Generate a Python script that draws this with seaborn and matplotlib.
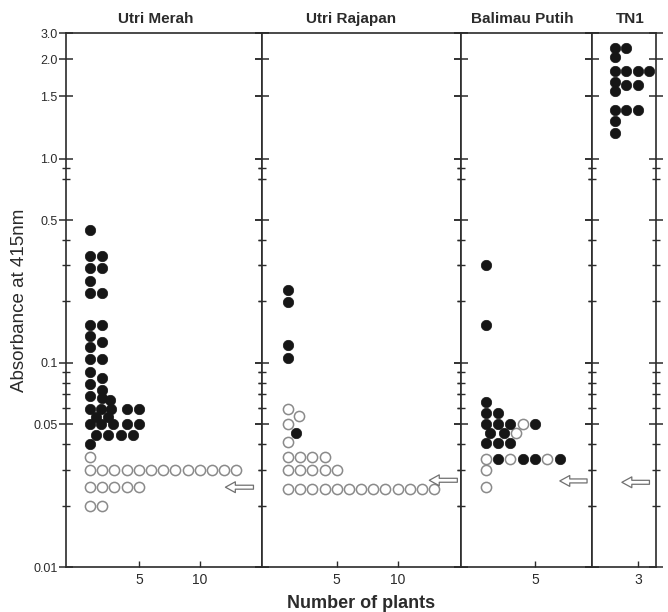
import numpy as np
import pandas as pd
import matplotlib
matplotlib.use("Agg")
import matplotlib.pyplot as plt
from matplotlib.ticker import FixedLocator, FixedFormatter, NullFormatter
import seaborn as sns

# ---- data: column (plant count position) and absorbance of each plant ----
PANELS = ["Utri Merah", "Utri Rajapan", "Balimau Putih", "TN1"]

# Utri Merah
um_fill_x = [1, 1, 2, 1, 2, 1, 1, 2, 1, 2, 1, 1, 2, 1, 2, 1, 1, 2, 2, 1, 2, 2.6,
             1, 1.9, 2.7, 4, 5, 1.5, 2.5, 1, 1.9, 2.9, 4, 5, 1.5, 2.5, 3.5, 4.5, 1]
um_fill_y = [0.450, 0.332, 0.332, 0.293, 0.293, 0.253, 0.219, 0.219, 0.154, 0.154,
             0.136, 0.120, 0.127, 0.105, 0.105, 0.0899, 0.0785, 0.0840, 0.0734,
             0.0686, 0.0671, 0.0659,
             0.0593, 0.0593, 0.0593, 0.0593, 0.0593, 0.0541, 0.0541,
             0.0500, 0.0500, 0.0500, 0.0500, 0.0500,
             0.0442, 0.0442, 0.0442, 0.0442, 0.0400]
um_open_x = [1] + list(range(1, 14)) + list(range(1, 6)) + [1, 2]
um_open_y = [0.0345] + [0.030] * 13 + [0.0246] * 5 + [0.020] * 2

# Utri Rajapan
ur_fill_x = [1, 1, 1, 1, 1.7]
ur_fill_y = [0.228, 0.199, 0.122, 0.1056, 0.0451]
ur_open_x = [1, 1.9, 1, 1] + list(range(1, 5)) + list(range(1, 6)) + list(range(1, 14))
ur_open_y = [0.0597, 0.0551, 0.0503, 0.0408] + [0.0346] * 4 + [0.0298] * 5 + [0.0241] * 13

# Balimau Putih
bp_fill_x = [1, 1, 1, 1, 2, 1, 2, 3, 5, 1.4, 2.5, 1, 2, 3, 2, 4, 5, 7]
bp_fill_y = [0.300, 0.154, 0.0643, 0.0568, 0.0568, 0.0500, 0.0500, 0.0500, 0.0500,
             0.0451, 0.0451, 0.0405, 0.0405, 0.0405, 0.0340, 0.0340, 0.0340, 0.0340]
bp_open_x = [4, 3.5, 1, 3, 6, 1, 1]
bp_open_y = [0.0500, 0.0451, 0.0340, 0.0340, 0.0340, 0.0300, 0.0247]

# TN1
tn_fill_x = [1, 2, 1, 1, 2, 3, 4, 1, 2, 3, 1, 1, 2, 3, 1, 1]
tn_fill_y = [2.37, 2.37, 2.06, 1.83, 1.83, 1.83, 1.83, 1.68, 1.64, 1.64, 1.56,
             1.376, 1.376, 1.376, 1.28, 1.18]
tn_open_x = []
tn_open_y = []

# threshold arrows (tip, tail, absorbance)
arrow_tip = [12.1, 12.6, 7.0, 1.6]
arrow_tail = [14.4, 14.9, 9.2, 4.0]
arrow_y = [0.0246, 0.0266, 0.0264, 0.026]

x_ticks = [[5, 10], [5, 10], [5], [3]]
x_lims = [(-0.97, 15.1), (-1.13, 15.2), (-0.98, 9.6), (-1.0, 4.57)]
widths = [196, 199, 131, 64]

y_major = [0.01, 0.05, 0.1, 0.5, 1.0, 1.5, 2.0, 3.0]
y_major_lab = ["0.01", "0.05", "0.1", "0.5", "1.0", "1.5", "2.0", "3.0"]
y_minor = [0.02, 0.03, 0.04, 0.06, 0.07, 0.08, 0.09, 0.2, 0.3, 0.4, 0.8, 0.9]

fill_x = [um_fill_x, ur_fill_x, bp_fill_x, tn_fill_x]
fill_y = [um_fill_y, ur_fill_y, bp_fill_y, tn_fill_y]
open_x = [um_open_x, ur_open_x, bp_open_x, tn_open_x]
open_y = [um_open_y, ur_open_y, bp_open_y, tn_open_y]

# the original axis is logarithmic up to 1.0 and stretched above it
LOG_ANCHOR = np.log10([1e-6, 0.01, 1.0, 1.5, 2.0, 3.0, 1e3])
POS_ANCHOR = np.array([-6, -2, 0, 0.305, 0.488, 0.616, 0.616 + 1.9])


def fwd(v):
    v = np.clip(np.asarray(v, dtype=float), 1e-6, 1e3)
    return np.interp(np.log10(v), LOG_ANCHOR, POS_ANCHOR)


def inv(p):
    return 10 ** np.interp(np.asarray(p, dtype=float), POS_ANCHOR, LOG_ANCHOR)


sns.set_style("white")
plt.rcParams["font.family"] = ["Liberation Sans", "DejaVu Sans"]

INK = "#2b2b2b"
fig = plt.figure(figsize=(6.68, 6.12), dpi=100)
gs = fig.add_gridspec(1, 4, width_ratios=widths, left=66 / 668, right=656 / 668,
                      bottom=1 - 567 / 612, top=1 - 33 / 612, wspace=0)
title_x = [0.46, 0.447, 0.466, 0.59]

for i, name in enumerate(PANELS):
    ax = fig.add_subplot(gs[0, i])
    ax.set_yscale("function", functions=(fwd, inv))

    if open_x[i]:
        df_o = pd.DataFrame({"x": open_x[i], "y": open_y[i]})
        sns.scatterplot(data=df_o, x="x", y="y", ax=ax, s=54, color="white",
                        edgecolor="#8a8a8a", linewidth=1.1, zorder=3)
    df_f = pd.DataFrame({"x": fill_x[i], "y": fill_y[i]})
    sns.scatterplot(data=df_f, x="x", y="y", ax=ax, s=56, color="#161616",
                    edgecolor="#161616", linewidth=0.5, zorder=4)

    ax.annotate("", xy=(arrow_tip[i], arrow_y[i]), xytext=(arrow_tail[i], arrow_y[i]),
                arrowprops=dict(arrowstyle="simple,head_length=0.55,head_width=0.6,tail_width=0.22",
                                fc="white", ec="#707070", lw=0.9, mutation_scale=13,
                                shrinkA=0, shrinkB=0))

    ax.set_xlim(*x_lims[i])
    ax.set_ylim(0.01, 3.0)
    ax.set_xlabel("")
    ax.set_ylabel("")

    ax.yaxis.set_major_locator(FixedLocator(y_major))
    ax.yaxis.set_minor_locator(FixedLocator(y_minor))
    ax.yaxis.set_minor_formatter(NullFormatter())
    if i == 0:
        ax.yaxis.set_major_formatter(FixedFormatter(y_major_lab))
    else:
        ax.yaxis.set_major_formatter(NullFormatter())
    ax.tick_params(axis="y", which="major", direction="inout", length=10, width=1.1,
                   left=True, right=True, colors=INK, labelsize=9, pad=1)
    ax.tick_params(axis="y", which="minor", direction="inout", length=6, width=1.0,
                   left=True, right=True, colors=INK)

    ax.set_xticks(x_ticks[i])
    ax.set_xticklabels([str(t) for t in x_ticks[i]])
    ax.tick_params(axis="x", which="major", direction="in", length=4, width=1.0,
                   bottom=True, colors=INK, labelsize=10, pad=4)

    for sp in ax.spines.values():
        sp.set_visible(True)
        sp.set_color(INK)
        sp.set_linewidth(1.2)

    ax.set_title(name, x=title_x[i], fontsize=11, fontweight="bold", color=INK, pad=7)

fig.text(361 / 668, 1 - 603 / 612, "Number of plants", ha="center", va="center",
         fontsize=13, fontweight="bold", color=INK)
fig.text(20 / 668, 1 - 300 / 612, "Absorbance at 415nm", ha="center", va="center",
         rotation=90, fontsize=13.5, color=INK)

fig.savefig("out.png", dpi=100)
